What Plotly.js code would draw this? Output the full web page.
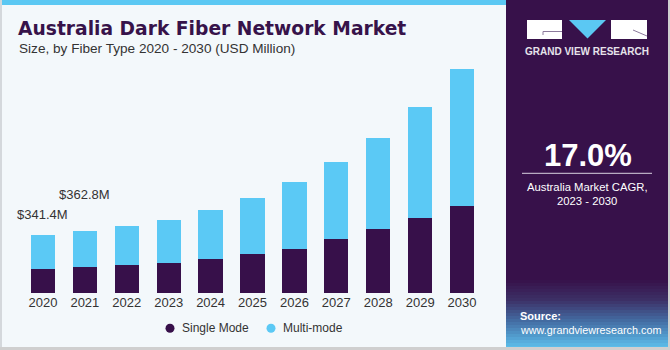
<!DOCTYPE html>
<html>
<head>
<meta charset="utf-8">
<script src="https://cdn.plot.ly/plotly-3.0.1.min.js"></script>
<style>html,body{margin:0;padding:0;background:#F3F8FB;}#chart{width:670px;height:350px;}</style>
</head>
<body>
<div id="chart"></div>
<script>
// ---- data ----
const years = ['2020','2021','2022','2023','2024','2025','2026','2027','2028','2029','2030'];
const singleMode = [140.5, 152, 164, 177, 201, 228, 259, 314, 372, 437, 511];
const multiMode  = [200.9, 210.8, 230, 252, 283, 330, 393, 451, 537, 652, 801];
const labelYears = ['2020', '2021'];
const labelTexts = ['$341.4M', '$362.8M'];
const seriesNames = ['Single Mode', 'Multi-mode'];

// ---- styling ----
const W = 670, H = 350;
const PL = 22, PR = 483, PT = 60, PB = 293;
const pxX = px => (px - PL) / (PR - PL);
const pxY = py => (PB - py) / (PB - PT);
const cDark = '#37104A', cBlue = '#5BC9F5';
const FONT = 'Liberation Sans, Arial, sans-serif';

const traces = [
  {type: 'bar', x: years, y: singleMode, name: seriesNames[0], marker: {color: cDark}, showlegend: false},
  {type: 'bar', x: years, y: multiMode, name: seriesNames[1], marker: {color: cBlue}, showlegend: false}
];

const shapes = [];
const annotations = [];
function rect(x0, y0, x1, y1, color, extra) {
  shapes.push(Object.assign({type: 'rect', xref: 'paper', yref: 'paper',
    x0: pxX(x0), x1: pxX(x1), y0: pxY(y1), y1: pxY(y0), fillcolor: color, line: {width: 0}, layer: 'above'}, extra || {}));
}
function line(x0, y0, x1, y1, color, w) {
  shapes.push({type: 'line', xref: 'paper', yref: 'paper', x0: pxX(x0), x1: pxX(x1), y0: pxY(y0), y1: pxY(y1),
    line: {color: color, width: w}, layer: 'above'});
}
function text(t, x, y, size, color, opts) {
  annotations.push(Object.assign({xref: 'paper', yref: 'paper', x: pxX(x), y: pxY(y), text: t, showarrow: false,
    xanchor: 'left', yanchor: 'middle', font: {family: FONT, size: size, color: color}}, opts || {}));
}

// frame & top strip
rect(0, 0, 506, 5, '#5BC8F3');
rect(0, 0, 2, 350, '#D4D8DC');
rect(0, 347, 670, 350, '#CFCFCF');

// right panel
rect(506, 0, 668, 347, '#37114A');
// gradient bottom of panel
const stops = [[280, [55,17,74]], [300, [60,48,102]], [320, [67,105,160]], [340, [85,168,216]], [347, [91,189,233]]];
for (let y = 280; y < 347; y += 3) {
  const yc = y + 1.5;
  let i = 0; while (i < stops.length - 2 && yc > stops[i+1][0]) i++;
  const a = stops[i], b = stops[i+1];
  const t = Math.min(1, Math.max(0, (yc - a[0]) / (b[0] - a[0])));
  const c = a[1].map((v, k) => Math.round(v + (b[1][k] - v) * t));
  rect(506, y, 668, Math.min(347, y + 3), `rgb(${c.join(',')})`);
}
rect(668, 0, 670, 350, '#CFCFCF');

// logo
rect(527, 20, 562, 39, '#FFFFFF');
line(543, 31.5, 562, 31.5, '#8C7A9C', 1);
line(543, 31.5, 543, 35, '#8C7A9C', 1);
shapes.push({type: 'path', xref: 'paper', yref: 'paper',
  path: `M ${pxX(569)} ${pxY(20)} L ${pxX(606)} ${pxY(20)} L ${pxX(587.5)} ${pxY(38.5)} Z`,
  fillcolor: '#5BC8F3', line: {width: 0}, layer: 'above'});
rect(611, 20, 647, 39, '#FFFFFF');
line(633, 30, 647, 36, '#8C7A9C', 1);
text('<b>GRAND VIEW RESEARCH</b>', 587, 51, 10, '#E6E3EA', {xanchor: 'center'});

// CAGR
text('<b>17.0%</b>', 587.5, 155, 31, '#FFFFFF', {xanchor: 'center'});
line(522, 173.3, 652, 173.3, '#D9D2E0', 1);
text('Australia Market CAGR,', 587, 186.5, 11.3, '#FFFFFF', {xanchor: 'center'});
text('2023 - 2030', 587, 201, 11.3, '#FFFFFF', {xanchor: 'center'});

// source
text('<b>Source:</b>', 518, 316, 11, '#FFFFFF');
text('www.grandviewresearch.com', 518, 330, 10.8, '#FFFFFF');

// titles
text('<b>Australia Dark Fiber Network Market</b>', 16, 29, 18.7, '#37134A', {font: {family: 'DejaVu Sans, sans-serif', size: 18.7, color: '#37134A'}});
text('Size, by Fiber Type 2020 - 2030 (USD Million)', 17, 48, 13.6, '#333333');

// legend
const legColors = [cDark, cBlue];
const legX = [170, 271];
seriesNames.forEach((n, i) => {
  shapes.push({type: 'circle', xref: 'paper', yref: 'paper', x0: pxX(legX[i] - 4.5), x1: pxX(legX[i] + 4.5),
    y0: pxY(332.8), y1: pxY(323.8), fillcolor: legColors[i], line: {width: 0}, layer: 'above'});
  text(n, legX[i] + 10, 328, 12, '#333333');
});

// value labels
const shifts = [20, 37];
labelYears.forEach((yr, i) => {
  const k = years.indexOf(yr);
  annotations.push({x: k, y: singleMode[k] + multiMode[k], xref: 'x', yref: 'y', text: labelTexts[i],
    showarrow: false, xanchor: 'center', yanchor: 'middle', yshift: shifts[i],
    font: {family: FONT, size: 13, color: '#333333'}});
});

const layout = {
  width: W, height: H,
  margin: {l: PL, r: W - PR, t: PT, b: H - PB, pad: 0},
  paper_bgcolor: '#F3F8FB', plot_bgcolor: '#F3F8FB',
  barmode: 'stack', bargap: 0.42,
  showlegend: false,
  xaxis: {type: 'category', range: [-0.5, 10.5], autorange: false, showgrid: false, zeroline: false, showline: false, ticks: '',
    tickfont: {family: FONT, size: 13, color: '#333333'}, fixedrange: true},
  yaxis: {range: [0, 1364], autorange: false, visible: false, showgrid: false, zeroline: false, fixedrange: true},
  shapes: shapes, annotations: annotations,
  font: {family: FONT}
};
Plotly.newPlot('chart', traces, layout, {staticPlot: true, displayModeBar: false});
</script>
</body>
</html>
